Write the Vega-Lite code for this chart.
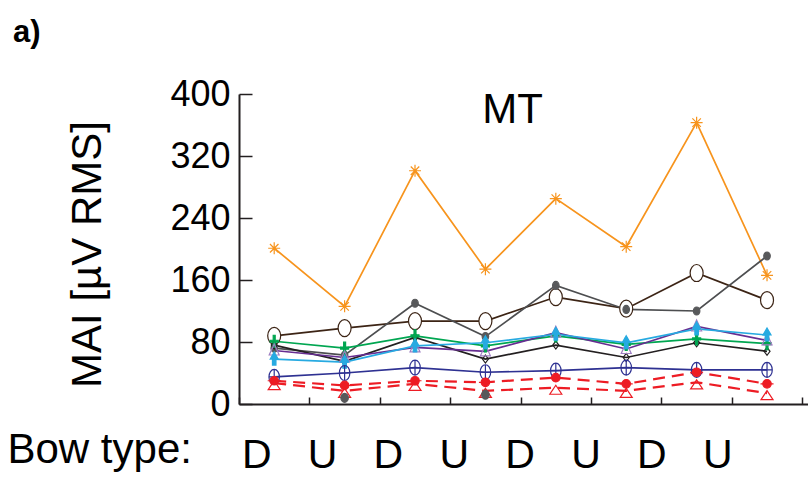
{
  "$schema": "https://vega.github.io/schema/vega-lite/v6.json",
  "padding": {"left": 7, "top": 17, "right": 0, "bottom": 0},
  "background": "white",
  "title": {"text": "a)", "anchor": "start", "frame": "bounds", "font": "Liberation Sans", "fontSize": 31, "fontWeight": "bold", "color": "black", "baseline": "alphabetic", "offset": 3, "dx": 6},
  "config": {"view": {"stroke": null}, "concat": {"spacing": 0}},
  "vconcat": [
    {
      "title": {"text": "MT", "anchor": "middle", "frame": "group", "font": "Liberation Sans", "fontSize": 42, "fontWeight": "normal", "color": "black", "baseline": "alphabetic", "offset": -89, "dx": -11},
      "width": 569,
      "height": 310,
      "data": {"values": [
        {"s": "P1", "t": "D1", "v": 201}, {"s": "P1", "t": "U1", "v": 126}, {"s": "P1", "t": "D2", "v": 301}, {"s": "P1", "t": "U2", "v": 174},
        {"s": "P1", "t": "D3", "v": 265}, {"s": "P1", "t": "U3", "v": 203}, {"s": "P1", "t": "D4", "v": 363}, {"s": "P1", "t": "U4", "v": 166},
        {"s": "P2", "t": "D1", "v": 88}, {"s": "P2", "t": "U1", "v": 98}, {"s": "P2", "t": "D2", "v": 107}, {"s": "P2", "t": "U2", "v": 107},
        {"s": "P2", "t": "D3", "v": 138}, {"s": "P2", "t": "U3", "v": 123}, {"s": "P2", "t": "D4", "v": 169}, {"s": "P2", "t": "U4", "v": 134},
        {"s": "P3", "t": "D1", "v": 72}, {"s": "P3", "t": "U1", "v": 63}, {"s": "P3", "t": "D2", "v": 130}, {"s": "P3", "t": "U2", "v": 87},
        {"s": "P3", "t": "D3", "v": 153}, {"s": "P3", "t": "U3", "v": 122}, {"s": "P3", "t": "D4", "v": 120}, {"s": "P3", "t": "U4", "v": 191},
        {"s": "P4", "t": "D1", "v": 76}, {"s": "P4", "t": "U1", "v": 55}, {"s": "P4", "t": "D2", "v": 86}, {"s": "P4", "t": "U2", "v": 58},
        {"s": "P4", "t": "D3", "v": 76}, {"s": "P4", "t": "U3", "v": 60}, {"s": "P4", "t": "D4", "v": 79}, {"s": "P4", "t": "U4", "v": 68},
        {"s": "P5", "t": "D1", "v": 81}, {"s": "P5", "t": "U1", "v": 72}, {"s": "P5", "t": "D2", "v": 88}, {"s": "P5", "t": "U2", "v": 75},
        {"s": "P5", "t": "D3", "v": 88}, {"s": "P5", "t": "U3", "v": 77}, {"s": "P5", "t": "D4", "v": 84}, {"s": "P5", "t": "U4", "v": 78},
        {"s": "P6", "t": "D1", "v": 69}, {"s": "P6", "t": "U1", "v": 60}, {"s": "P6", "t": "D2", "v": 73}, {"s": "P6", "t": "U2", "v": 68},
        {"s": "P6", "t": "D3", "v": 92}, {"s": "P6", "t": "U3", "v": 71}, {"s": "P6", "t": "D4", "v": 100}, {"s": "P6", "t": "U4", "v": 82},
        {"s": "P7", "t": "D1", "v": 58}, {"s": "P7", "t": "U1", "v": 54}, {"s": "P7", "t": "D2", "v": 75}, {"s": "P7", "t": "U2", "v": 79},
        {"s": "P7", "t": "D3", "v": 90}, {"s": "P7", "t": "U3", "v": 79}, {"s": "P7", "t": "D4", "v": 97}, {"s": "P7", "t": "U4", "v": 89},
        {"s": "P8", "t": "D1", "v": 35}, {"s": "P8", "t": "U1", "v": 40}, {"s": "P8", "t": "D2", "v": 47}, {"s": "P8", "t": "U2", "v": 41},
        {"s": "P8", "t": "D3", "v": 43}, {"s": "P8", "t": "U3", "v": 47}, {"s": "P8", "t": "D4", "v": 44}, {"s": "P8", "t": "U4", "v": 44},
        {"s": "P9", "t": "D1", "v": 30}, {"s": "P9", "t": "U1", "v": 24}, {"s": "P9", "t": "D2", "v": 30}, {"s": "P9", "t": "U2", "v": 28},
        {"s": "P9", "t": "D3", "v": 34}, {"s": "P9", "t": "U3", "v": 26}, {"s": "P9", "t": "D4", "v": 41}, {"s": "P9", "t": "U4", "v": 26},
        {"s": "P10", "t": "D1", "v": 27}, {"s": "P10", "t": "U1", "v": 17}, {"s": "P10", "t": "D2", "v": 26}, {"s": "P10", "t": "U2", "v": 17},
        {"s": "P10", "t": "D3", "v": 21}, {"s": "P10", "t": "U3", "v": 17}, {"s": "P10", "t": "D4", "v": 28}, {"s": "P10", "t": "U4", "v": 14},
        {"s": "P11", "t": "U1", "v": 8}, {"s": "P11", "t": "U2", "v": 12}
      ]},
      "encoding": {
        "x": {
          "field": "t", "type": "nominal",
          "scale": {"domain": ["D1", "U1", "D2", "U2", "D3", "U3", "D4", "U4"], "type": "band", "paddingInner": 0, "paddingOuter": 0.041, "align": 0},
          "axis": {
            "title": "Bow type:", "titleFont": "Liberation Sans", "titleFontSize": 42, "titleFontWeight": "normal", "titleColor": "black",
            "titleX": -232, "titleY": 58, "titleAlign": "left", "titleBaseline": "alphabetic", "titleAnchor": "start",
            "labelExpr": "substring(datum.label, 0, 1)", "labelAngle": 0,
            "labelFont": "Liberation Sans", "labelFontSize": 41, "labelColor": "black", "labelBaseline": "alphabetic",
            "labelOffset": {"expr": "-18 - 4.55 * indexof(['D1','U1','D2','U2','D3','U3','D4','U4'], datum.value)"},
            "labelPadding": 70,
            "tickBand": "extent", "tickSize": -7, "tickWidth": 1.5, "tickColor": "#231F20",
            "domainColor": "#231F20", "domainWidth": 2, "grid": false
          }
        },
        "y": {
          "field": "v", "type": "quantitative",
          "scale": {"domain": [0, 400], "nice": false},
          "axis": {
            "title": "MAI [µV RMS]", "titleFont": "Liberation Sans", "titleFontSize": 42, "titleFontWeight": "normal", "titleColor": "black",
            "titleX": -139, "titleY": 160, "titleAngle": -90, "titleAlign": "center", "titleBaseline": "alphabetic",
            "values": [0, 80, 160, 240, 320, 400],
            "labelFont": "Liberation Sans", "labelFontSize": 36, "labelColor": "black", "labelPadding": 22,
            "tickSize": -13, "tickWidth": 1.5, "tickColor": "#231F20",
            "domainColor": "#231F20", "domainWidth": 2, "grid": false
          }
        }
      },
      "layer": [
        {
          "transform": [{"filter": "datum.s != 'P9' && datum.s != 'P10' && datum.s != 'P11'"}],
          "mark": {"type": "line", "strokeWidth": 1.7},
          "encoding": {
            "detail": {"field": "s"},
            "color": {"field": "s", "type": "nominal", "legend": null,
              "scale": {"domain": ["P1", "P2", "P3", "P4", "P5", "P6", "P7", "P8"],
                "range": ["#F7941D", "#3C2415", "#4D4E50", "#231F20", "#00A651", "#662D91", "#27AAE1", "#2E3192"]}}
          }
        },
        {
          "transform": [{"filter": "datum.s == 'P9' || datum.s == 'P10'"}],
          "mark": {"type": "line", "strokeWidth": 2.2, "strokeDash": [12, 7], "color": "#ED1C24"},
          "encoding": {"detail": {"field": "s"}}
        },
        {
          "mark": {"type": "point", "opacity": 1, "size": 100, "strokeWidth": 1.2},
          "encoding": {
            "shape": {"field": "s", "type": "nominal", "legend": null,
              "scale": {"domain": ["P1", "P2", "P3", "P4", "P5", "P6", "P7", "P8", "P9", "P10", "P11"],
                "range": [
                  "M-1.2,0L1.2,0M0,-1.2L0,1.2M-0.85,-0.85L0.85,0.85M-0.85,0.85L0.85,-0.85",
                  "M0,-1.7A1.3,1.7,0,1,1,0,1.7A1.3,1.7,0,1,1,0,-1.7Z",
                  "M0,-0.8A0.65,0.8,0,1,1,0,0.8A0.65,0.8,0,1,1,0,-0.8Z",
                  "M0,-0.8L0.6,0L0,0.8L-0.6,0Z",
                  "M-0.2,-1.2L0.2,-1.2L0.2,-0.2L0.8,-0.2L0.8,0.2L0.2,0.2L0.2,1.2L-0.2,1.2L-0.2,0.2L-0.8,0.2L-0.8,-0.2L-0.2,-0.2Z",
                  "M0,-1.3L1,0.9L-1,0.9Z",
                  "M0,-1.4L0.8,0L0.35,0L0.35,1.2L-0.35,1.2L-0.35,0L-0.8,0Z",
                  "M0,-1.5A1.05,1.5,0,1,1,0,1.5A1.05,1.5,0,1,1,0,-1.5ZM-1.05,0L1.05,0M0,-1.5L0,1.5",
                  "M0,-0.85A0.85,0.85,0,1,1,0,0.85A0.85,0.85,0,1,1,0,-0.85ZM-1.3,0L1.3,0",
                  "M0,-0.5L1.2,1.3L-1.2,1.3Z",
                  "M0,-0.9A0.75,0.9,0,1,1,0,0.9A0.75,0.9,0,1,1,0,-0.9Z"
                ]}},
            "stroke": {"field": "s", "type": "nominal", "legend": null,
              "scale": {"domain": ["P1", "P2", "P3", "P4", "P5", "P6", "P7", "P8", "P9", "P10", "P11"],
                "range": ["#F7941D", "#3C2415", "#58595B", "#231F20", "#00A651", "#9E7FC2", "#27AAE1", "#2E3192", "#ED1C24", "#ED1C24", "#58595B"]}},
            "fill": {"field": "s", "type": "nominal", "legend": null,
              "scale": {"domain": ["P1", "P2", "P3", "P4", "P5", "P6", "P7", "P8", "P9", "P10", "P11"],
                "range": ["transparent", "white", "#58595B", "transparent", "#00A651", "transparent", "#27AAE1", "transparent", "#ED1C24", "transparent", "#58595B"]}}
          }
        }
      ]
    }
  ]
}
